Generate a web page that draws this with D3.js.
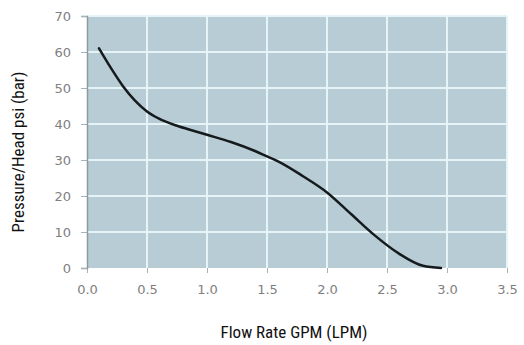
<!DOCTYPE html>
<html>
<head>
<meta charset="utf-8">
<script src="https://cdn.jsdelivr.net/npm/d3@7"></script>
<style>
  html, body { margin: 0; padding: 0; background: #ffffff; }
  svg { display: block; }
</style>
</head>
<body>
<svg id="chart" width="524" height="345"></svg>
<script>
// Pump performance curve: flow rate vs. pressure/head
const flowGPM = [0.1, 0.2, 0.3, 0.4, 0.5, 0.6, 0.75, 0.9, 1.0, 1.2, 1.4, 1.5, 1.6, 1.8, 2.0, 2.2, 2.4, 2.6, 2.8, 2.95];
const pressurePsi = [61, 55.5, 50.5, 46.5, 43.5, 41.5, 39.5, 38, 37, 35, 32.5, 31, 29.5, 25.5, 21, 15, 9, 4, 0.6, 0];
const xTicks = [0, 0.5, 1.0, 1.5, 2.0, 2.5, 3.0, 3.5];
const yTicks = [0, 10, 20, 30, 40, 50, 60, 70];
const xTitle = "Flow Rate GPM (LPM)";
const yTitle = "Pressure/Head psi (bar)";

const svg = d3.select("#chart");
const margin = { left: 87, right: 17, top: 16, bottom: 77 };
const W = 524, H = 345;

const x = d3.scaleLinear().domain([0, 3.5]).range([margin.left, W - margin.right]);
const y = d3.scaleLinear().domain([0, 70]).range([H - margin.bottom, margin.top]);

// plot background
svg.append("rect")
  .attr("x", x(0)).attr("y", y(70))
  .attr("width", x(3.5) - x(0)).attr("height", y(0) - y(70))
  .attr("fill", "#b8ccd5");

// grid
const grid = svg.append("g").attr("stroke", "#e6f3f7").attr("stroke-width", 2);
grid.selectAll("line.v").data(xTicks.slice(1)).join("line")
  .attr("x1", d => x(d)).attr("x2", d => x(d))
  .attr("y1", y(70)).attr("y2", y(0));
grid.selectAll("line.h").data(yTicks.slice(1)).join("line")
  .attr("x1", x(0)).attr("x2", x(3.5))
  .attr("y1", d => y(d)).attr("y2", d => y(d));

// axes
const tickFont = "'DejaVu Sans', sans-serif";
const xAxis = svg.append("g")
  .attr("transform", `translate(0,${y(0)})`)
  .call(d3.axisBottom(x).tickValues(xTicks).tickFormat(d3.format(".1f")).tickSize(5).tickPadding(12));
xAxis.select(".domain").remove();
xAxis.selectAll("line").attr("stroke", "#a9b2b6");
xAxis.selectAll("text").attr("fill", "#808080").style("font", `13px ${tickFont}`);

const yAxis = svg.append("g")
  .attr("transform", `translate(${x(0)},0)`)
  .call(d3.axisLeft(y).tickValues(yTicks).tickFormat(d3.format("d")).tickSize(6).tickPadding(10));
yAxis.select(".domain").attr("stroke", "#8f9a9f").attr("stroke-width", 1.5);
yAxis.selectAll("line").attr("stroke", "#a9b2b6");
yAxis.selectAll("text").attr("fill", "#808080").style("font", `13px ${tickFont}`);

// curve
const pts = flowGPM.map((f, i) => [f, pressurePsi[i]]);
svg.append("path")
  .datum(pts)
  .attr("fill", "none")
  .attr("stroke", "#151a1c")
  .attr("stroke-width", 2.5)
  .attr("stroke-linecap", "round")
  .attr("d", d3.line().x(d => x(d[0])).y(d => y(d[1])).curve(d3.curveMonotoneX));

// axis titles
const titleFont = "'Liberation Sans Narrow', 'Roboto Condensed', 'DejaVu Sans Condensed', sans-serif";
svg.append("text")
  .attr("x", 294).attr("y", 338)
  .attr("text-anchor", "middle")
  .attr("fill", "#111")
  .style("font-family", titleFont).style("font-size", "17px")
  .text(xTitle);

svg.append("text")
  .attr("transform", `translate(24,152) rotate(-90)`)
  .attr("text-anchor", "middle")
  .attr("fill", "#111")
  .style("font-family", titleFont).style("font-size", "17px")
  .text(yTitle);
</script>
</body>
</html>
